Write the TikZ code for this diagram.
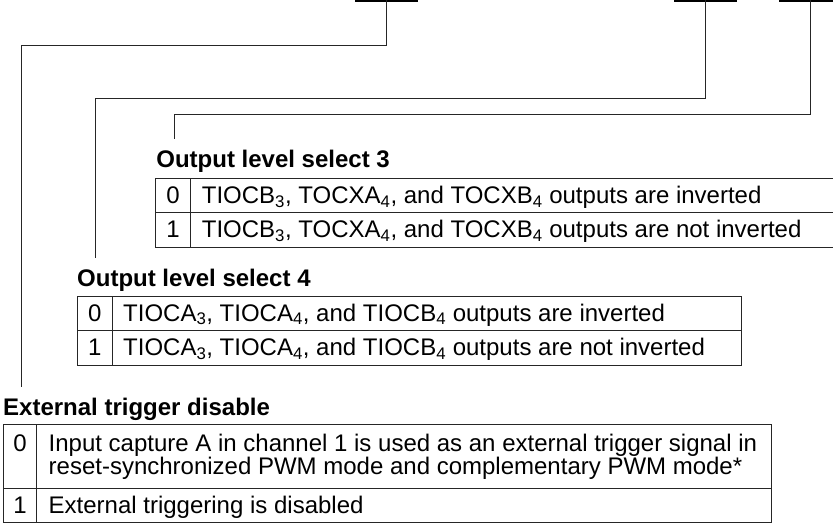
\documentclass[tikz,border=0pt]{standalone}
\usepackage{fontspec}
\setmainfont{Liberation Sans}
\begin{document}
\begin{tikzpicture}[x=1pt,y=-1pt,
  ln/.style={line width=1pt, draw=black!85},
  barline/.style={line width=1.8pt, draw=black},
  ttl/.style={anchor=base west, inner sep=0pt, font=\fontsize{24}{23}\selectfont\bfseries},
  txt/.style={anchor=base west, inner sep=0pt, font=\fontsize{24}{23}\selectfont},
  dig/.style={anchor=base, inner sep=0pt, font=\fontsize{24}{23}\selectfont},
]
\useasboundingbox (0,0) rectangle (833,524);
\fill[white] (0,0) rectangle (833,524);
\clip (0,0) rectangle (833,524);

% register bit marks
\draw[barline] (355,0.8) -- (418,0.8);
\draw[barline] (674,0.8) -- (737,0.8);
\draw[barline] (779,0.8) -- (842,0.8);
\coordinate (b1) at (386.7,0);
\coordinate (b2) at (705.3,0);
\coordinate (b3) at (810.7,0);
\coordinate (e1) at (21.2,387);
\coordinate (e2) at (95.5,258);
\coordinate (e3) at (174,139);

\draw[ln] (b1) -- ++(0,45.3) -| (e1);
\draw[ln] (b2) -- ++(0,98.7) -| (e2);
\draw[ln] (b3) -- ++(0,114.7) -| (e3);

% titles
\node[ttl] (t3) at (156.2,167.3) {Output level select 3};
\node[ttl] (t4) at (77,286) {Output level select 4};
\node[ttl] (t5) at (3,415) {External trigger disable};

% table 3
\draw[ln] (155.7,178.3) rectangle (840,247.3);
\draw[ln] (155.7,212.7) -- (840,212.7);
\draw[ln] (190.3,178.3) -- (190.3,247.3);
\node[dig] (d30) at (173,203.3) {0};
\node[dig] (d31) at (173,237.8) {1};
\node[txt] (r30) at (201.7,203.3) {TIOCB\textsubscript{3}, TOCXA\textsubscript{4}, and TOCXB\textsubscript{4} outputs are inverted};
\node[txt] (r31) at (201.7,237.8) {TIOCB\textsubscript{3}, TOCXA\textsubscript{4}, and TOCXB\textsubscript{4} outputs are not inverted};

% table 4
\draw[ln] (77.3,296) rectangle (741.7,365.3);
\draw[ln] (77.3,330.7) -- (741.7,330.7);
\draw[ln] (112,296) -- (112,365.3);
\node[dig] (d40) at (94.7,321.2) {0};
\node[dig] (d41) at (94.7,355.8) {1};
\node[txt] (r40) at (123,321.2) {TIOCA\textsubscript{3}, TIOCA\textsubscript{4}, and TIOCB\textsubscript{4} outputs are inverted};
\node[txt] (r41) at (123,355.8) {TIOCA\textsubscript{3}, TIOCA\textsubscript{4}, and TIOCB\textsubscript{4} outputs are not inverted};

% external trigger table
\draw[ln] (3.3,424.5) rectangle (771,522.7);
\draw[ln] (3.3,488.8) -- (771,488.8);
\draw[ln] (36.7,424.5) -- (36.7,522.7);
\node[dig] (d50) at (20,451.7) {0};
\node[dig] (d51) at (20,513.5) {1};
\node[txt] (r50a) at (48.5,451.7) {Input capture A in channel 1 is used as an external trigger signal in};
\node[txt] (r50b) at (48.5,474.3) {reset-synchronized PWM mode and complementary PWM mode*};
\node[txt] (r51) at (48.5,513.5) {External triggering is disabled};
\end{tikzpicture}
\end{document}
